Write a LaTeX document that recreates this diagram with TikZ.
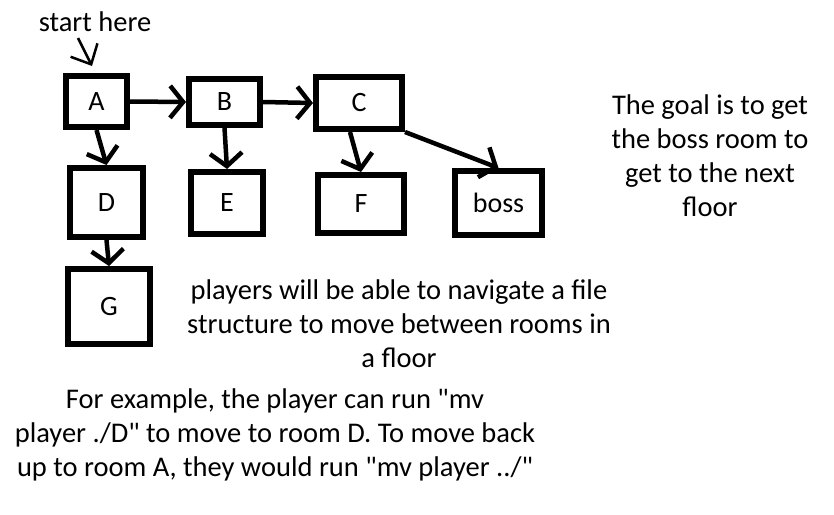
\documentclass[tikz,border=0pt]{standalone}
\usepackage{fontspec}
\setmainfont{Carlito}[Ligatures=TeXOff]
\usepackage{tikz}
\usetikzlibrary{arrows.meta,positioning}

\begin{document}
\begin{tikzpicture}[x=1pt, y=-1pt,
  room/.style={rectangle, draw, line width=6pt, inner sep=0pt, font=\fontsize{28}{34}\selectfont},
  link/.style={-{Straight Barb[length=13pt,width=32pt]}, line width=4.5pt},
  note/.style={align=center, inner sep=0pt, font=\fontsize{28.5}{34}\selectfont}]
\useasboundingbox (0,0) rectangle (834,514);

% Rooms of the floor
\node[room, minimum width=61pt, minimum height=51pt] (A) at (96.5,101.5) {A};
\node[room, minimum width=71pt, minimum height=46pt] (B) at (224.5,102) {B};
\node[room, minimum width=86pt, minimum height=52pt] (C) at (359,103) {C};
\node[room, minimum width=73pt, minimum height=69pt] (D) at (106.5,202.5) {D};
\node[room, minimum width=72pt, minimum height=62pt] (E) at (227,203) {E};
\node[room, minimum width=86pt, minimum height=58pt] (F) at (361,204) {F};
\node[room, minimum width=87pt, minimum height=64pt] (boss) at (498.5,203) {boss};
\node[room, minimum width=82pt, minimum height=75pt] (G) at (109,306.5) {G};

% Doors between rooms
\draw[link] (A.east) -- (B.west);
\draw[link] (B.east) -- (C.west);
\draw[link] (A.south) -- (D.north);
\draw[link] (B.south) -- (E.north);
\draw[link] ([xshift=-9pt]C.south) -- (F.north);
\draw[link] (C.south east) -- (boss.north);
\draw[link] (D.south) -- (G.north);

% Entry point
\node[note] (start) at (95,22) {start here};
\coordinate (startTail) at (78,38);
\coordinate (startTip) at (92,66);
\draw[line width=2.5pt, -{Straight Barb[length=16pt,width=30pt]}] (startTail) -- (startTip);

% Notes
\node[note] (goal) at (710,156) {The goal is to get\\the boss room to\\get to the next\\floor};
\node[note] (navigate) at (399,324) {players will be able to navigate a file\\structure to move between rooms in\\a floor};
\node[note] (example) at (275,435) {For example, the player can run "mv\\player ./D" to move to room D. To move back\\up to room A, they would run "mv player ../"};

\end{tikzpicture}
\end{document}
